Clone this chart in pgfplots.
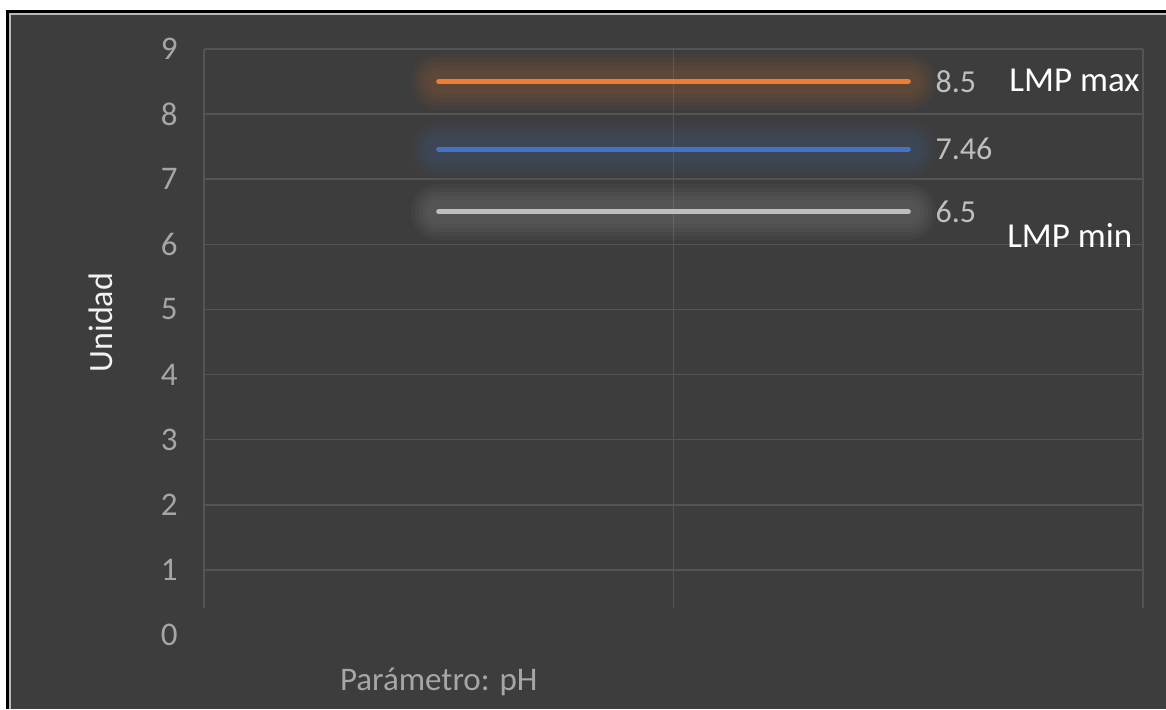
\documentclass[border=0pt]{standalone}
\usepackage{pgfplots}
\pgfplotsset{compat=1.18}
\usepackage{fontspec}
\setmainfont{Carlito}

\definecolor{bg}{RGB}{61,61,61}
\definecolor{gridc}{RGB}{84,84,84}
\definecolor{ticktxt}{RGB}{166,166,166}
\definecolor{lblc}{RGB}{191,191,191}
\definecolor{orangeL}{RGB}{237,125,49}
\definecolor{blueL}{RGB}{68,114,196}
\definecolor{grayL}{RGB}{190,190,190}

% soft halo under each series
\pgfplotsset{
  halo/.style={line cap=round, draw=#1, opacity=0.045, forget plot},
}

\begin{document}
\begin{tikzpicture}
\useasboundingbox (0,0) rectangle (583pt,-354.5pt);
\fill[white] (0,0) rectangle (583pt,-354.5pt);
\fill[black] (3pt,-5pt) rectangle (583pt,-354.5pt);
\fill[gray!55] (4.5pt,-6.5pt) rectangle (583pt,-354.5pt);
\fill[bg] (5.5pt,-7.5pt) rectangle (583pt,-354.5pt);

\begin{axis}[
  at={(102pt,-317.5pt)}, anchor=south west,
  scale only axis, width=469.5pt, height=293pt,
  xmin=0, xmax=2, ymin=0, ymax=9,
  clip=false,
  axis line style={draw=none},
  major tick length=0pt,
  ytick={0,1,...,9},
  xtick={0.5}, xticklabels={Parámetro: pH},
  /pgf/number format/assume math mode=true,
  tick label style={font=\fontsize{16.5}{19}\selectfont, text=ticktxt},
  yticklabel style={anchor=east, inner sep=0pt, xshift=-13pt},
  xticklabel style={anchor=center, inner sep=0pt, yshift=-23.5pt},
  ylabel={Unidad},
  every axis y label/.style={at={(rel axis cs:-0.1097,0.533)}, rotate=90,
    anchor=center, font=\fontsize{17}{20}\selectfont, text=white!95!black},
]
% gridlines
\foreach \k in {1,...,9}{
  \edef\tmp{\noexpand\draw[gridc, line width=0.8pt] (axis cs:0,\k) -- (axis cs:2,\k);}
  \tmp
}
\draw[gridc, line width=0.8pt] (axis cs:0,0.42) -- (axis cs:0,9);
\draw[gridc, line width=0.8pt] (axis cs:1,0.42) -- (axis cs:1,9);
\draw[gridc, line width=0.8pt] (axis cs:2,0.42) -- (axis cs:2,9);

% halos
\foreach \w in {28,24,20,16,12}{
  \edef\tmp{\noexpand\addplot[halo=orangeL, line width=\w pt] coordinates {(0.5,8.5) (1.5,8.5)};
    \noexpand\addplot[halo=blueL, line width=\w pt] coordinates {(0.5,7.46) (1.5,7.46)};
    \noexpand\addplot[halo=grayL, line width=\w pt] coordinates {(0.5,6.5) (1.5,6.5)};}
  \tmp
}

% series
\addplot[orangeL, line width=2.6pt, line cap=round] coordinates {(0.5,8.5) (1.5,8.5)}
  node[pos=1, anchor=west, xshift=9pt, text=lblc, font=\fontsize{16}{19}\selectfont] {8.5};
\addplot[blueL, line width=2.6pt, line cap=round] coordinates {(0.5,7.46) (1.5,7.46)}
  node[pos=1, anchor=west, xshift=9pt, text=lblc, font=\fontsize{16}{19}\selectfont] {7.46};
\addplot[grayL, line width=2.6pt, line cap=round] coordinates {(0.5,6.5) (1.5,6.5)}
  node[pos=1, anchor=west, xshift=9pt, text=lblc, font=\fontsize{16}{19}\selectfont] {6.5};

% limit annotations
\node[anchor=west, inner sep=0pt, text=white, font=\fontsize{17.5}{20}\selectfont]
  at (axis cs:1.7146,8.52) {LMP max};
\node[anchor=west, inner sep=0pt, text=white, font=\fontsize{17.5}{20}\selectfont]
  at (axis cs:1.710,6.13) {LMP min};
\end{axis}
\end{tikzpicture}
\end{document}
